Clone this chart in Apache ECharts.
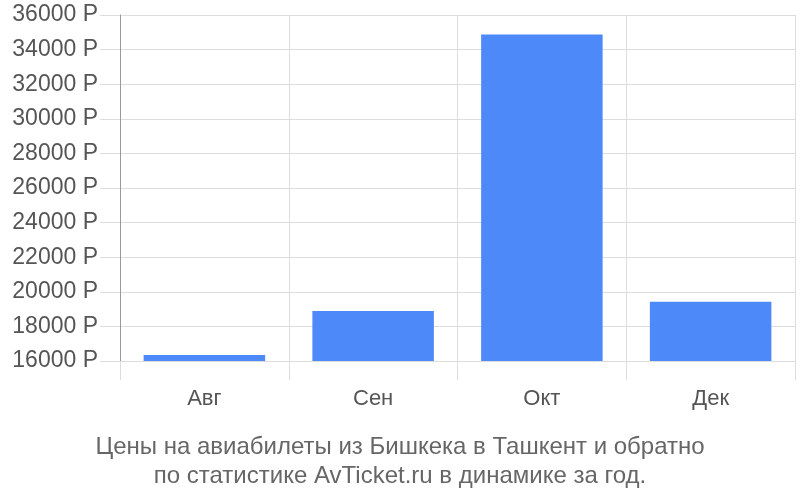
<!DOCTYPE html>
<html><head><meta charset="utf-8">
<script src="https://cdn.jsdelivr.net/npm/echarts@6/dist/echarts.min.js"></script>
<style>html,body{margin:0;padding:0;background:#fff}#c{width:800px;height:500px}</style>
</head><body><div id="c"></div>
<script>
var categories = ['Авг', 'Сен', 'Окт', 'Дек'];
var prices = [16350, 18890, 34870, 19420];
var yMin = 16000, yMax = 36000, yStep = 2000;
var currency = ' Р';
var titleLines = ['Цены на авиабилеты из Бишкека в Ташкент и обратно', 'по статистике AvTicket.ru в динамике за год.'];

var chart = echarts.init(document.getElementById('c'), null, {renderer: 'canvas'});
chart.setOption({
  animation: false,
  textStyle: {fontFamily: 'Liberation Sans, Arial, sans-serif'},
  grid: {left: 120, right: 5, top: 15, bottom: 139, containLabel: false},
  title: {
    text: titleLines.join('\n'),
    left: 'center', top: 428,
    textStyle: {fontSize: 24, fontWeight: 'normal', color: '#666', lineHeight: 29, fontFamily: 'Liberation Sans, Arial, sans-serif'}
  },
  xAxis: {
    type: 'category', data: categories,
    axisLine: {show: false},
    axisTick: {show: true, length: 19, lineStyle: {color: '#ddd'}},
    splitLine: {show: true, lineStyle: {color: '#ddd'}},
    axisLabel: {color: '#555', fontSize: 22, margin: 27}
  },
  yAxis: {
    type: 'value', min: yMin, max: yMax, interval: yStep,
    axisLine: {show: true, lineStyle: {color: '#999'}},
    axisTick: {show: true, length: 20, lineStyle: {color: '#ddd'}},
    splitLine: {show: true, lineStyle: {color: '#ddd'}},
    axisLabel: {color: '#555', fontSize: 23, margin: 22, formatter: function (v) { return v + currency; }}
  },
  series: [{
    type: 'bar', data: prices, barWidth: '72%',
    itemStyle: {color: '#4d89f9'}
  }]
});
</script></body></html>
